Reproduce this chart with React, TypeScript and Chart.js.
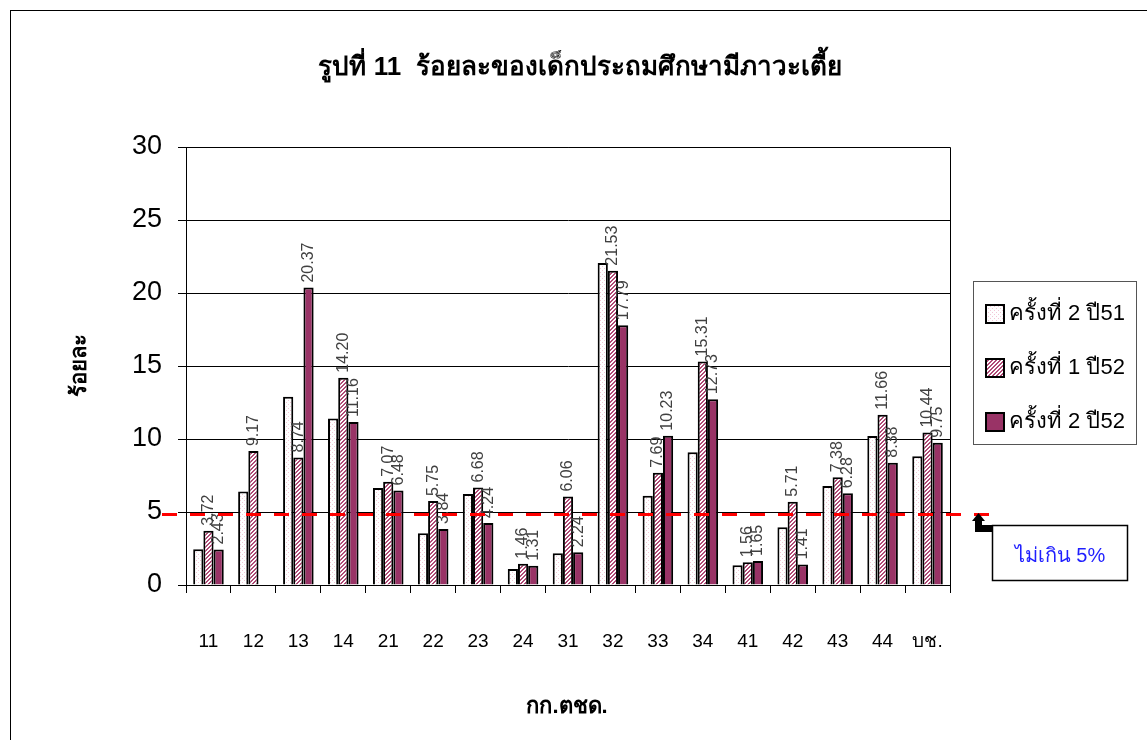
import React, { useEffect, useRef } from "react";
import { Chart, registerables } from "chart.js";

Chart.register(...registerables);

const TITLE = "รูปที่ 11  ร้อยละของเด็กประถมศึกษามีภาวะเตี้ย";
const Y_TITLE = "ร้อยละ";
const X_TITLE = "กก.ตชด.";
const NOTE = "ไม่เกิน 5%";

const categories = ["11", "12", "13", "14", "21", "22", "23", "24", "31", "32", "33", "34", "41", "42", "43", "44", "บช."];
const seriesNames = ["ครั้งที่ 2 ปี51", "ครั้งที่ 1 ปี52", "ครั้งที่ 2 ปี52"];
const round2_51 = [2.45, 6.4, 12.9, 11.4, 6.65, 3.54, 6.24, 1.09, 2.18, 22.05, 6.12, 9.1, 1.36, 3.95, 6.78, 10.2, 8.82];
const round1_52 = [3.72, 9.17, 8.74, 14.2, 7.07, 5.75, 6.68, 1.46, 6.06, 21.53, 7.69, 15.31, 1.56, 5.71, 7.38, 11.66, 10.44];
const round2_52 = [2.43, null, 20.37, 11.16, 6.48, 3.84, 4.24, 1.31, 2.24, 17.79, 10.23, 12.73, 1.65, 1.41, 6.28, 8.38, 9.75];
const yTicks = [0, 5, 10, 15, 20, 25, 30];
const THRESHOLD = 4.85;

const FONT = '"Liberation Sans", Arial, "DejaVu Sans", sans-serif';

function makePattern(kind: string): CanvasPattern | string {
  const c = document.createElement("canvas");
  const ctx = c.getContext("2d");
  if (!ctx) return "#fff";
  c.width = 4; c.height = 4;
  ctx.fillStyle = "#ffffff";
  ctx.fillRect(0, 0, 4, 4);
  if (kind === "dots") {
    ctx.fillStyle = "#f2c6d6";
    ctx.fillRect(0, 0, 1, 1);
    ctx.fillRect(2, 2, 1, 1);
  } else {
    ctx.fillStyle = "#b04a76";
    for (let i = 0; i < 4; i++) {
      ctx.fillRect(i, (3 - i + 4) % 4, 1, 1);
      ctx.fillRect(i, (4 - i + 4) % 4, 1, 1);
    }
  }
  return ctx.createPattern(c, "repeat") || "#fff";
}

const decorPlugin = {
  id: "decor",
  beforeDraw(chart: any) {
    const ctx = chart.ctx;
    ctx.save();
    ctx.fillStyle = "#ffffff";
    ctx.fillRect(0, 0, chart.width, chart.height);
    ctx.strokeStyle = "#000";
    ctx.lineWidth = 1;
    ctx.strokeRect(10.5, 10.5, 1300, 900);
    ctx.restore();
  },
  afterDatasetsDraw(chart: any) {
    const ctx = chart.ctx;
    const area = chart.chartArea;
    const yScale = chart.scales.y;
    ctx.save();
    ctx.strokeStyle = "#000";
    ctx.lineWidth = 1;
    ctx.beginPath();
    ctx.moveTo(area.left, area.top + 0.5);
    ctx.lineTo(area.right + 0.5, area.top + 0.5);
    ctx.lineTo(area.right + 0.5, area.bottom);
    ctx.stroke();

    // data labels
    ctx.font = "16px " + FONT;
    ctx.fillStyle = "#404040";
    ctx.textAlign = "left";
    ctx.textBaseline = "middle";
    [1, 2].forEach((di) => {
      const meta = chart.getDatasetMeta(di);
      const data = chart.data.datasets[di].data;
      meta.data.forEach((bar: any, i: number) => {
        const v = data[i];
        if (v === null || v === undefined) return;
        ctx.save();
        ctx.translate(bar.x, bar.y - 5);
        ctx.rotate(-Math.PI / 2);
        ctx.fillText(Number(v).toFixed(2), 0, 0);
        ctx.restore();
      });
    });

    // red dashed threshold line
    const ty = Math.round(yScale.getPixelForValue(THRESHOLD)) + 0.5;
    ctx.strokeStyle = "#ff0000";
    ctx.lineWidth = 3;
    ctx.setLineDash([15, 13]);
    ctx.beginPath();
    ctx.moveTo(162, ty);
    ctx.lineTo(992, ty);
    ctx.stroke();
    ctx.setLineDash([]);

    // elbow arrow
    ctx.fillStyle = "#000";
    ctx.fillRect(975, 525, 18, 7);
    ctx.fillRect(975, 519, 7, 10);
    ctx.beginPath();
    ctx.moveTo(972, 521);
    ctx.lineTo(978.5, 513);
    ctx.lineTo(985, 521);
    ctx.closePath();
    ctx.fill();

    // note box
    ctx.fillStyle = "#fff";
    ctx.fillRect(992, 525, 136, 56);
    ctx.strokeStyle = "#000";
    ctx.lineWidth = 1.5;
    ctx.strokeRect(992.5, 525.5, 135, 55);
    ctx.fillStyle = "#1f1fff";
    ctx.font = "20px " + FONT;
    ctx.textAlign = "center";
    ctx.textBaseline = "middle";
    ctx.fillText(NOTE, 1060, 556);

    // legend
    ctx.strokeStyle = "#555";
    ctx.lineWidth = 1;
    ctx.strokeRect(973.5, 281.5, 163, 163);
    const rows = [314, 368, 422];
    chart.data.datasets.forEach((ds: any, i: number) => {
      const y = rows[i];
      ctx.fillStyle = ds.backgroundColor;
      ctx.fillRect(986, y - 9, 18, 18);
      ctx.strokeStyle = "#000";
      ctx.lineWidth = 2;
      ctx.strokeRect(986, y - 9, 18, 18);
      ctx.fillStyle = "#000";
      ctx.font = "22px " + FONT;
      ctx.textAlign = "left";
      ctx.textBaseline = "middle";
      ctx.fillText(ds.label, 1009, y);
    });

    // titles
    ctx.fillStyle = "#000";
    ctx.textAlign = "center";
    ctx.textBaseline = "middle";
    ctx.font = "bold 26px " + FONT;
    ctx.fillText(TITLE, 580, 68);
    ctx.font = "bold 22px " + FONT;
    ctx.fillText(X_TITLE, 567, 707);
    ctx.save();
    ctx.translate(80, 365);
    ctx.rotate(-Math.PI / 2);
    ctx.fillText(Y_TITLE, 0, 0);
    ctx.restore();
    ctx.restore();
  },
};

export default function App() {
  const ref = useRef<HTMLCanvasElement>(null);
  useEffect(() => {
    if (!ref.current) return;
    const fills = [makePattern("dots"), makePattern("hatch"), "#993366"];
    const chart = new Chart(ref.current, {
      type: "bar",
      data: {
        labels: categories,
        datasets: [round2_51, round1_52, round2_52].map((d, i) => ({
          label: seriesNames[i],
          data: d as any,
          backgroundColor: fills[i] as any,
          borderColor: "#000",
          borderWidth: 2,
          borderSkipped: "bottom" as any,
          categoryPercentage: 0.68,
          barPercentage: 1,
        })),
      },
      options: {
        responsive: false,
        animation: false,
        devicePixelRatio: 1,
        layout: { padding: { top: 147, right: 197, left: 0, bottom: 0 } },
        plugins: { legend: { display: false }, tooltip: { enabled: false }, title: { display: false } },
        scales: {
          x: {
            offset: true,
            grid: { drawOnChartArea: false, offset: true, tickLength: 8, color: "#000", lineWidth: 1 },
            border: { color: "#000", width: 1 },
            ticks: { color: "#000", font: { family: FONT, size: 19 }, padding: 37, maxRotation: 0, autoSkip: false },
            afterFit: (s: any) => { s.height = 155; },
          },
          y: {
            min: 0,
            max: 30,
            afterBuildTicks: (s: any) => { s.ticks = yTicks.map((v) => ({ value: v })); },
            grid: { color: "#000", lineWidth: 1, tickLength: 8 },
            border: { color: "#000", width: 1 },
            ticks: { color: "#000", font: { family: FONT, size: 27 }, padding: 16 },
            afterFit: (s: any) => { s.width = 186; },
          },
        },
      },
      plugins: [decorPlugin],
    });
    return () => chart.destroy();
  }, []);
  return (
    <div style={{ position: "absolute", left: 0, top: 0, width: 1147, height: 740, background: "#fff" }}>
      <canvas ref={ref} width={1147} height={740} style={{ width: 1147, height: 740, display: "block" }} />
    </div>
  );
}
